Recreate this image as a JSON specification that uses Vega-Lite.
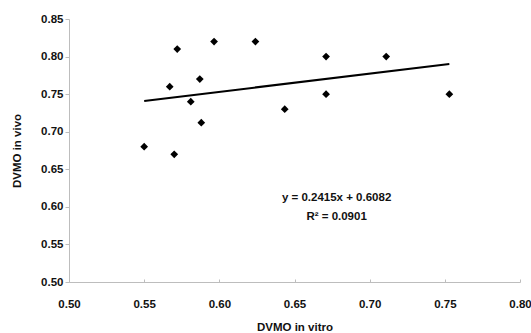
{
  "$schema": "https://vega.github.io/schema/vega-lite/v6.json",
  "width": 451,
  "height": 263,
  "autosize": {"type": "none"},
  "padding": {"left": 69, "top": 19, "right": 11, "bottom": 51},
  "background": "white",
  "config": {
    "view": {"stroke": null},
    "font": "Liberation Sans",
    "axis": {
      "grid": false,
      "domainColor": "#bdbdbd",
      "tickColor": "#bdbdbd",
      "labelFont": "Liberation Sans",
      "labelFontWeight": "bold",
      "labelFontSize": 11.5,
      "labelColor": "#111",
      "labelOverlap": false,
      "titleFont": "Liberation Sans",
      "titleFontWeight": "bold",
      "titleFontSize": 11.5,
      "titleColor": "#111"
    }
  },
  "datasets": {
    "points": [
      {"vitro": 0.550, "vivo": 0.68},
      {"vitro": 0.567, "vivo": 0.76},
      {"vitro": 0.570, "vivo": 0.67},
      {"vitro": 0.572, "vivo": 0.81},
      {"vitro": 0.581, "vivo": 0.74},
      {"vitro": 0.587, "vivo": 0.77},
      {"vitro": 0.588, "vivo": 0.712},
      {"vitro": 0.5965, "vivo": 0.82},
      {"vitro": 0.624, "vivo": 0.82},
      {"vitro": 0.6435, "vivo": 0.73},
      {"vitro": 0.671, "vivo": 0.80},
      {"vitro": 0.671, "vivo": 0.75},
      {"vitro": 0.711, "vivo": 0.80},
      {"vitro": 0.753, "vivo": 0.75}
    ],
    "trend": [
      {"vitro": 0.550, "vivo": 0.7410},
      {"vitro": 0.753, "vivo": 0.7901}
    ],
    "labels": [
      {"vitro": 0.678, "vivo": 0.612, "text": "y = 0.2415x + 0.6082"},
      {"vitro": 0.678, "vivo": 0.587, "text": "R² = 0.0901"}
    ]
  },
  "layer": [
    {
      "data": {"name": "trend"},
      "mark": {"type": "line", "color": "black", "strokeWidth": 2},
      "encoding": {
        "x": {
          "field": "vitro", "type": "quantitative",
          "scale": {"domain": [0.5, 0.8], "nice": false, "zero": false},
          "axis": {
            "title": "DVMO in vitro",
            "values": [0.5, 0.55, 0.6, 0.65, 0.7, 0.75, 0.8],
            "format": ".2f",
            "tickSize": -3,
            "labelPadding": 19,
            "titlePadding": 12,
            "labelFlush": false,
            "labelOverlap": false
          }
        },
        "y": {
          "field": "vivo", "type": "quantitative",
          "scale": {"domain": [0.5, 0.85], "nice": false, "zero": false},
          "axis": {
            "title": "DVMO in vivo",
            "values": [0.5, 0.55, 0.6, 0.65, 0.7, 0.75, 0.8, 0.85],
            "format": ".2f",
            "tickSize": 4,
            "tickCount": 8,
            "labelPadding": 2,
            "titlePadding": 18,
            "labelFlush": false,
            "labelOverlap": false
          }
        }
      }
    },
    {
      "data": {"name": "points"},
      "mark": {"type": "point", "shape": "diamond", "filled": true, "color": "black", "size": 60, "opacity": 1},
      "encoding": {
        "x": {"field": "vitro", "type": "quantitative"},
        "y": {"field": "vivo", "type": "quantitative"}
      }
    },
    {
      "data": {"name": "labels"},
      "mark": {"type": "text", "font": "Liberation Sans", "fontWeight": "bold", "fontSize": 11.5, "color": "#111", "align": "center", "baseline": "middle"},
      "encoding": {
        "x": {"field": "vitro", "type": "quantitative"},
        "y": {"field": "vivo", "type": "quantitative"},
        "text": {"field": "text"}
      }
    }
  ]
}
